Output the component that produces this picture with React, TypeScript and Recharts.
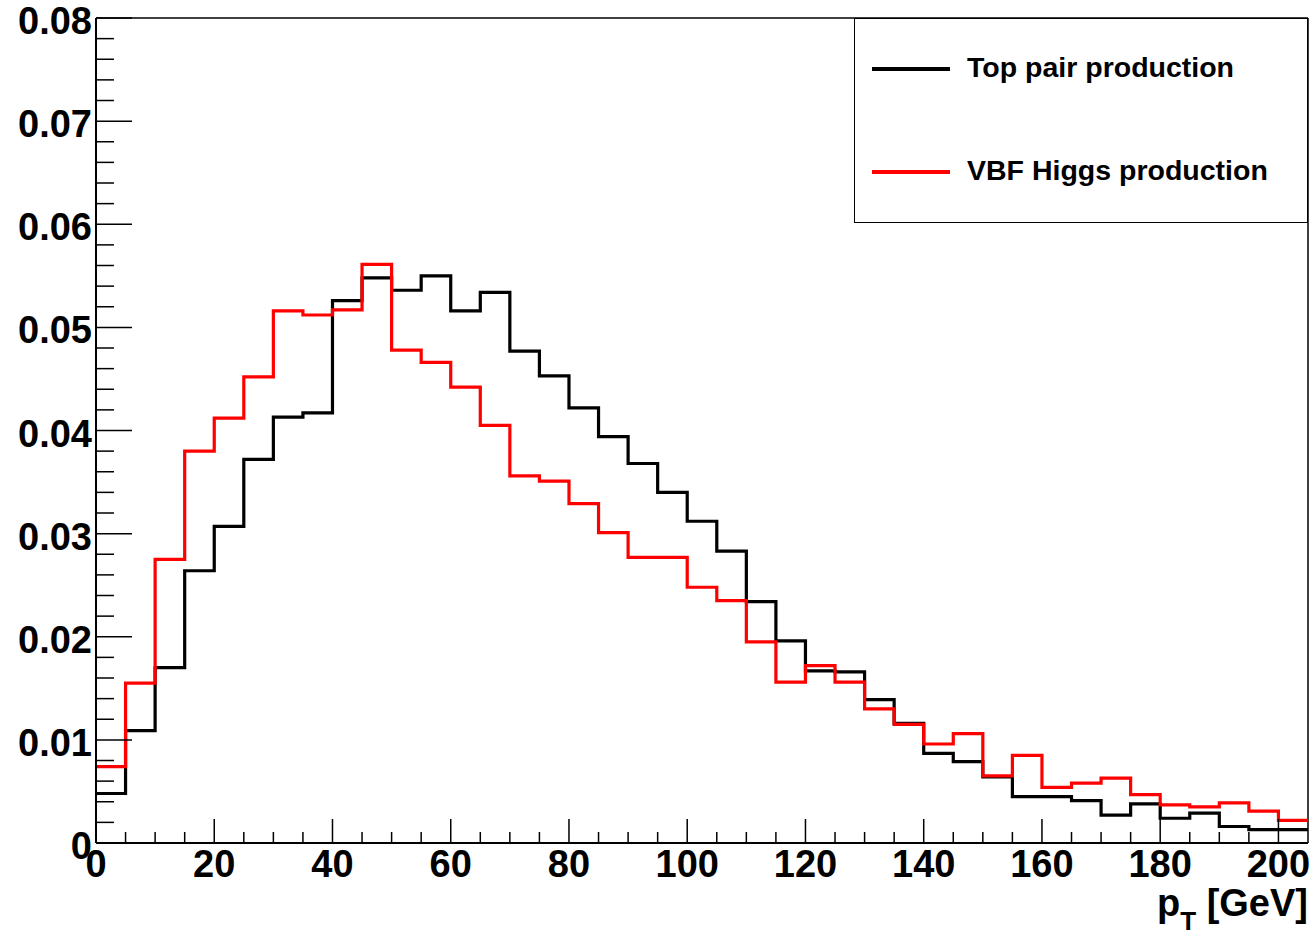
import React from "react";
import { LineChart, Line, XAxis, YAxis, ReferenceLine } from "recharts";

// lower bin edges, 5 GeV wide
const binLow = [
  0, 5, 10, 15, 20, 25, 30, 35, 40, 45, 50, 55, 60, 65, 70, 75, 80, 85, 90, 95,
  100, 105, 110, 115, 120, 125, 130, 135, 140, 145, 150, 155, 160, 165, 170,
  175, 180, 185, 190, 195, 200,
];
const binEnd = 205;

const topPair = [
  0.0048, 0.0109, 0.017, 0.0264, 0.0307, 0.0372, 0.0413, 0.0417, 0.0526,
  0.0548, 0.0536, 0.055, 0.0516, 0.0534, 0.0477, 0.0453, 0.0422, 0.0394,
  0.0368, 0.034, 0.0312, 0.0283, 0.0234, 0.0196, 0.0167, 0.0166, 0.0139,
  0.0116, 0.0087, 0.0079, 0.0064, 0.0045, 0.0045, 0.0041, 0.0027, 0.0038,
  0.0024, 0.0029, 0.0016, 0.0013, 0.0013,
];

const vbfHiggs = [
  0.0074, 0.0155, 0.0275, 0.038, 0.0412, 0.0452, 0.0516, 0.0512, 0.0517,
  0.0561, 0.0478, 0.0466, 0.0442, 0.0405, 0.0356, 0.0351, 0.0329, 0.0301,
  0.0277, 0.0277, 0.0248, 0.0235, 0.0195, 0.0156, 0.0172, 0.0156, 0.013,
  0.0115, 0.0096, 0.0106, 0.0065, 0.0085, 0.0054, 0.0058, 0.0063, 0.0047,
  0.0037, 0.0035, 0.0039, 0.0031, 0.0022,
];

const xMajor = [0, 20, 40, 60, 80, 100, 120, 140, 160, 180, 200];
const yMajor = [0, 0.01, 0.02, 0.03, 0.04, 0.05, 0.06, 0.07, 0.08];
const seriesNames = ["Top pair production", "VBF Higgs production"];

const FONT = "'Liberation Sans', Arial, Helvetica, sans-serif";

const data = binLow.map((x, i) => ({ x, top: topPair[i], vbf: vbfHiggs[i] }));
data.push({
  x: binEnd,
  top: topPair[topPair.length - 1],
  vbf: vbfHiggs[vbfHiggs.length - 1],
});

// minor ticks: every 5 on x, 5 per major on y
const xTicks = binLow.slice();
const yTicks: number[] = [];
for (let i = 0; i <= 40; i++) yTicks.push(+(i * 0.002).toFixed(3));

const isXMajor = (v: number) => xMajor.includes(v);
const isYMajor = (v: number) => yMajor.some((m) => Math.abs(m - v) < 1e-9);

const XTick = (props: any) => {
  const { x, y, payload } = props;
  const major = isXMajor(payload.value);
  return (
    <g>
      <line x1={x} x2={x} y1={y} y2={y - (major ? 24 : 11)} stroke="#000" strokeWidth={1.5} />
      {major && (
        <text x={x} y={y + 34} textAnchor="middle" fontSize={38} fontWeight="bold" fontFamily={FONT} fill="#000">
          {payload.value}
        </text>
      )}
    </g>
  );
};

const YTick = (props: any) => {
  const { x, y, payload } = props;
  const v = payload.value;
  const major = isYMajor(v);
  return (
    <g>
      <line x1={x} x2={x + (major ? 36 : 18)} y1={y} y2={y} stroke="#000" strokeWidth={1.5} />
      {major && (
        <text x={x - 4} y={y + 16} textAnchor="end" fontSize={38} fontWeight="bold" fontFamily={FONT} fill="#000">
          {v === 0 ? "0" : v.toFixed(2)}
        </text>
      )}
    </g>
  );
};

const AxisTitle = (props: any) => {
  const vb = props.viewBox;
  const right = vb.x + vb.width;
  return (
    <text x={right} y={vb.y + 73} textAnchor="end" fontSize={38} fontWeight="bold" fontFamily={FONT} fill="#000">
      p
      <tspan fontSize={26} dy={14}>T</tspan>
      <tspan dy={-14}> [GeV]</tspan>
    </text>
  );
};

export default function App() {
  return (
    <div style={{ position: "fixed", left: 0, top: 0, width: 1314, height: 937, background: "#fff" }}>
      <LineChart width={1314} height={937} data={data} margin={{ top: 18, right: 6, left: 0, bottom: 0 }}>
        <XAxis
          dataKey="x"
          type="number"
          domain={[0, binEnd]}
          ticks={xTicks}
          interval={0}
          height={94}
          tickSize={0}
          tickMargin={0}
          tickLine={false}
          axisLine={{ stroke: "#000", strokeWidth: 2 }}
          tick={<XTick />}
          label={<AxisTitle />}
        />
        <YAxis
          type="number"
          domain={[0, 0.08]}
          ticks={yTicks}
          interval={0}
          width={96}
          tickSize={0}
          tickMargin={0}
          tickLine={false}
          axisLine={{ stroke: "#000", strokeWidth: 2 }}
          tick={<YTick />}
        />
        <ReferenceLine y={0.08} stroke="#000" strokeWidth={1.5} />
        <ReferenceLine x={binEnd} stroke="#000" strokeWidth={1.5} />
        <Line type="stepAfter" dataKey="top" stroke="#000" strokeWidth={3.2} dot={false} isAnimationActive={false} />
        <Line type="stepAfter" dataKey="vbf" stroke="#ff0000" strokeWidth={3.2} dot={false} isAnimationActive={false} />
      </LineChart>
      <div
        style={{
          position: "absolute",
          left: 854,
          top: 18,
          width: 454,
          height: 205,
          boxSizing: "border-box",
          border: "1.5px solid #000",
          background: "#fff",
          fontFamily: FONT,
          fontWeight: "bold",
          fontSize: 28.5,
        }}
      >
        {seriesNames.map((name, i) => (
          <div key={name} style={{ position: "absolute", left: 17, top: i === 0 ? 32 : 135, display: "flex", alignItems: "center", height: 36 }}>
            <div style={{ width: 78, height: 4, background: i === 0 ? "#000" : "#ff0000" }} />
            <span style={{ marginLeft: 17, marginTop: -4 }}>{name}</span>
          </div>
        ))}
      </div>
    </div>
  );
}
